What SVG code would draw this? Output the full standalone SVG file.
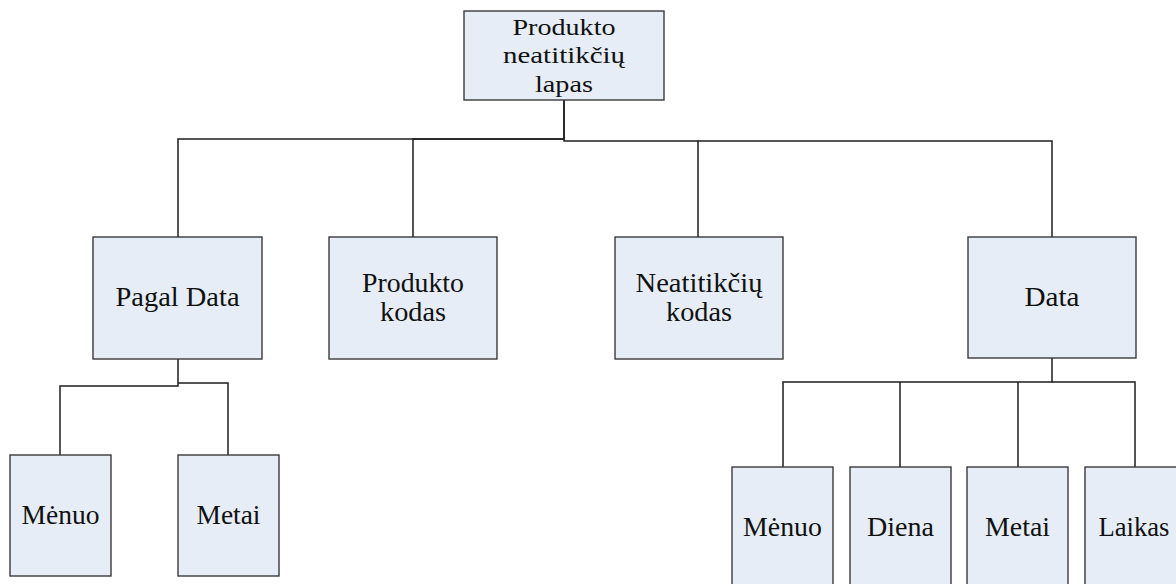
<svg xmlns="http://www.w3.org/2000/svg" width="1176" height="584" viewBox="0 0 1176 584">
  <style>
    .box { fill: #e6edf7; stroke: #3a3a3a; stroke-width: 1.4; }
    .lbl { font-family: "Liberation Serif", "Times New Roman", serif; font-size: 27px; fill: #111; text-anchor: middle; }
    .lbl.tight { font-size: 23px; }
    .wire { fill: none; stroke: #1e1e1e; stroke-width: 1.5; }
  </style>
  <rect width="1176" height="584" fill="#ffffff"/>

  <!-- connectors (orthogonal elbows from parent bottom to child top) -->
  <g id="connectors">
    <path class="wire" d="M564 100 V139 H178 V237"/>
    <path class="wire" d="M564 139 H413 V237"/>
    <path class="wire" d="M564 100 V141 H698 V237"/>
    <path class="wire" d="M698 141 H1052 V237"/>
    <path class="wire" d="M178 359 V386 H60 V455"/>
    <path class="wire" d="M178 383 H228 V455"/>
    <path class="wire" d="M1052 358 V382 H783 V467"/>
    <path class="wire" d="M1052 382 H1135 V467"/>
    <path class="wire" d="M900 382 V467"/>
    <path class="wire" d="M1018 382 V467"/>
  </g>

  <g id="root">
    <rect class="box" x="464" y="11" width="200" height="89"/>
    <text class="lbl tight" x="564" y="35" textLength="103" lengthAdjust="spacingAndGlyphs">Produkto</text>
    <text class="lbl tight" x="564" y="63" textLength="122" lengthAdjust="spacingAndGlyphs">neatitikčių</text>
    <text class="lbl tight" x="564" y="92" textLength="58" lengthAdjust="spacingAndGlyphs">lapas</text>
  </g>

  <g id="pagal-data">
    <rect class="box" x="93" y="237" width="169" height="122"/>
    <text class="lbl" x="177.5" y="306" textLength="124" lengthAdjust="spacingAndGlyphs">Pagal Data</text>
  </g>

  <g id="produkto-kodas">
    <rect class="box" x="329" y="237" width="168" height="122"/>
    <text class="lbl" x="413" y="292" textLength="102" lengthAdjust="spacingAndGlyphs">Produkto</text>
    <text class="lbl" x="413" y="321" textLength="66" lengthAdjust="spacingAndGlyphs">kodas</text>
  </g>

  <g id="neatitikciu-kodas">
    <rect class="box" x="615" y="237" width="168" height="122"/>
    <text class="lbl" x="699" y="292" textLength="127" lengthAdjust="spacingAndGlyphs">Neatitikčių</text>
    <text class="lbl" x="699" y="321" textLength="66" lengthAdjust="spacingAndGlyphs">kodas</text>
  </g>

  <g id="data">
    <rect class="box" x="968" y="237" width="168" height="121"/>
    <text class="lbl" x="1052" y="306" textLength="55" lengthAdjust="spacingAndGlyphs">Data</text>
  </g>

  <g id="menuo-left">
    <rect class="box" x="10" y="455" width="101" height="121"/>
    <text class="lbl" x="60.5" y="524" textLength="78" lengthAdjust="spacingAndGlyphs">Mėnuo</text>
  </g>

  <g id="metai-left">
    <rect class="box" x="178" y="455" width="101" height="121"/>
    <text class="lbl" x="228.5" y="524" textLength="64" lengthAdjust="spacingAndGlyphs">Metai</text>
  </g>

  <g id="menuo-right">
    <rect class="box" x="732" y="467" width="101" height="140"/>
    <text class="lbl" x="782.5" y="536" textLength="79" lengthAdjust="spacingAndGlyphs">Mėnuo</text>
  </g>

  <g id="diena">
    <rect class="box" x="850" y="467" width="101" height="140"/>
    <text class="lbl" x="900.5" y="536" textLength="67" lengthAdjust="spacingAndGlyphs">Diena</text>
  </g>

  <g id="metai-right">
    <rect class="box" x="967" y="467" width="101" height="140"/>
    <text class="lbl" x="1017.5" y="536" textLength="65" lengthAdjust="spacingAndGlyphs">Metai</text>
  </g>

  <g id="laikas">
    <rect class="box" x="1085" y="467" width="101" height="140"/>
    <text class="lbl" x="1134" y="536" textLength="71" lengthAdjust="spacingAndGlyphs">Laikas</text>
  </g>
</svg>
